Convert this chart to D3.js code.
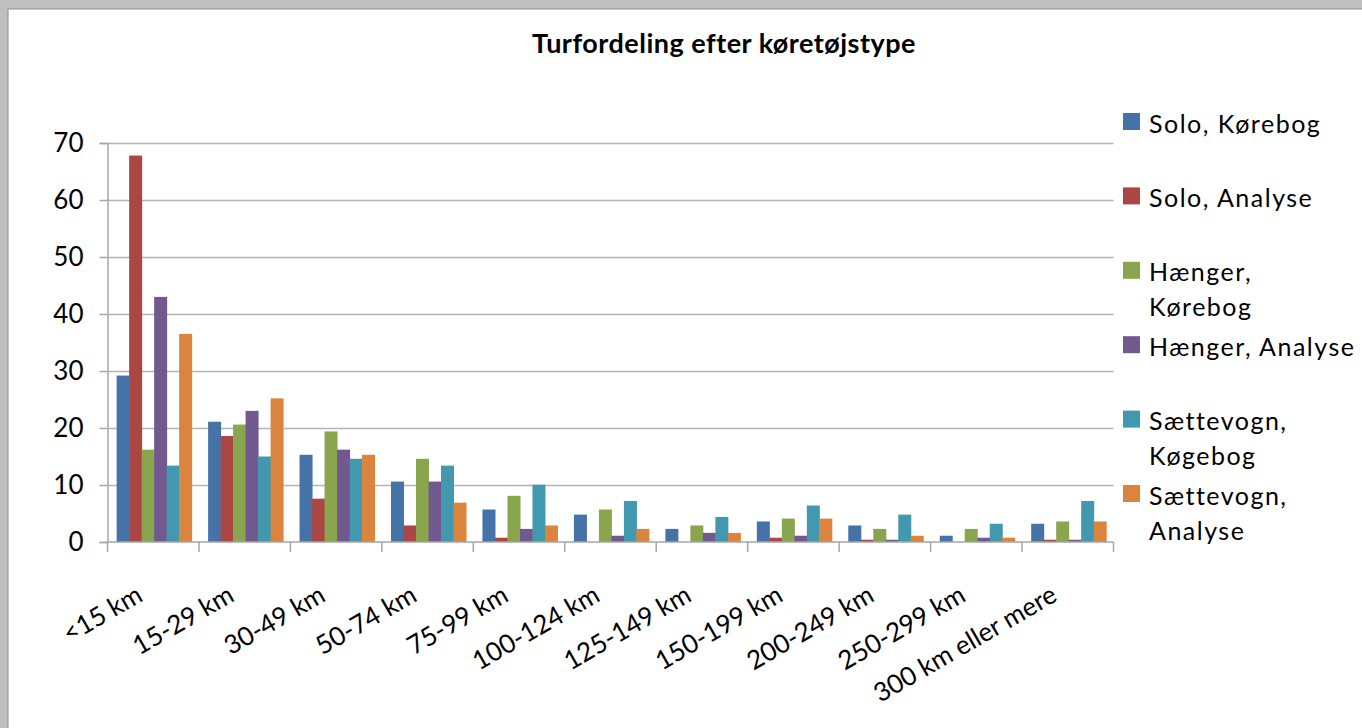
<!DOCTYPE html>
<html>
<head>
<meta charset="utf-8">
<script src="https://cdn.jsdelivr.net/npm/d3@7"></script>
<style>
  body { margin: 0; background: #fff; }
  svg text { font-family: Lato, "Open Sans", sans-serif; fill: #000; }
</style>
</head>
<body>
<div id="chart"></div>
<script>
const categories = ["<15 km", "15-29 km", "30-49 km", "50-74 km", "75-99 km", "100-124 km",
  "125-149 km", "150-199 km", "200-249 km", "250-299 km", "300 km eller mere"];
const seriesNames = ["Solo, Kørebog", "Solo, Analyse", "Hænger, Kørebog", "Hænger, Analyse",
  "Sættevogn, Køgebog", "Sættevogn, Analyse"];
const soloKorebog = [29.2, 21.1, 15.3, 10.6, 5.7, 4.8, 2.3, 3.6, 2.9, 1.1, 3.2];
const soloAnalyse = [67.8, 18.6, 7.6, 2.9, 0.75, 0, 0, 0.75, 0.4, 0, 0.4];
const haengerKorebog = [16.2, 20.6, 19.4, 14.6, 8.1, 5.7, 2.9, 4.1, 2.3, 2.3, 3.6];
const haengerAnalyse = [43.0, 23.0, 16.2, 10.6, 2.3, 1.1, 1.6, 1.1, 0.4, 0.75, 0.4];
const saettevognKogebog = [13.4, 15.0, 14.6, 13.4, 10.05, 7.2, 4.4, 6.4, 4.8, 3.2, 7.2];
const saettevognAnalyse = [36.5, 25.2, 15.3, 6.9, 2.9, 2.3, 1.6, 4.1, 1.1, 0.75, 3.6];
const yTicks = [0, 10, 20, 30, 40, 50, 60, 70];
const colors = ["#4572a7", "#aa4643", "#89a54e", "#71588f", "#4198af", "#db843d"];
// legend labels wrap like the original
const legendLines = [["Solo, Kørebog"], ["Solo, Analyse"], ["Hænger,", "Kørebog"],
  ["Hænger, Analyse"], ["Sættevogn,", "Køgebog"], ["Sættevogn,", "Analyse"]];

const allSeries = [soloKorebog, soloAnalyse, haengerKorebog, haengerAnalyse, saettevognKogebog, saettevognAnalyse];

let width = 1362, height = 728;
let margin = { top: 143, bottom: 186, left: 107.5, right: 248.5 };

let svg = d3.select('#chart')
  .append('svg')
  .attr('width', width)
  .attr('height', height);

// window frame
svg.append('rect').attr('x', 0).attr('y', 0).attr('width', width).attr('height', 9).attr('fill', '#bfbfbf');
svg.append('rect').attr('x', 0).attr('y', 0).attr('width', 8).attr('height', height).attr('fill', '#bfbfbf');
svg.append('line').attr('x1', 8).attr('x2', 8).attr('y1', 9).attr('y2', height).attr('stroke', '#8c8c8c');
svg.append('line').attr('x1', 8).attr('x2', width).attr('y1', 9).attr('y2', 9).attr('stroke', '#8c8c8c');

let x0 = d3.scaleBand()
  .domain(categories)
  .range([margin.left, width - margin.right])
  .paddingInner(0)
  .paddingOuter(0);

let x1 = d3.scaleBand()
  .domain(d3.range(seriesNames.length))
  .range([x0.bandwidth() * 0.1, x0.bandwidth() * 0.92]);

let yscale = d3.scaleLinear()
  .domain([0, 70])
  .range([height - margin.bottom, margin.top]);

// gridlines
svg.append('g')
  .attr('transform', `translate(${margin.left},0)`)
  .call(d3.axisLeft(yscale).tickValues(yTicks.slice(1)).tickSize(-(width - margin.right - margin.left)).tickFormat(''))
  .call(g => g.select('.domain').remove())
  .selectAll('line').attr('stroke', '#b3b3b3').attr('stroke-width', 1.5);

// y axis
svg.append('g')
  .attr('transform', `translate(${margin.left},0)`)
  .call(d3.axisLeft(yscale).tickValues(yTicks).tickSize(8).tickPadding(16))
  .call(g => g.select('.domain').attr('stroke', '#a6a6a6').attr('stroke-width', 1.5))
  .call(g => g.selectAll('line').attr('stroke', '#a6a6a6').attr('stroke-width', 1.5))
  .selectAll('text')
  .style('font-size', '26px');

// bars
svg.append('g')
  .selectAll('g')
  .data(categories)
  .join('g')
  .attr('transform', d => `translate(${x0(d)},0)`)
  .selectAll('rect')
  .data((d, i) => allSeries.map((s, k) => ({ k: k, v: s[i] })))
  .join('rect')
  .attr('x', d => x1(d.k))
  .attr('width', x1.bandwidth() + 0.5)
  .attr('y', d => yscale(d.v))
  .attr('height', d => yscale(0) - yscale(d.v))
  .attr('fill', d => colors[d.k]);

// x axis line and ticks between categories
let xAxis = svg.append('g');
xAxis.append('line')
  .attr('x1', margin.left).attr('x2', width - margin.right)
  .attr('y1', yscale(0)).attr('y2', yscale(0))
  .attr('stroke', '#a6a6a6').attr('stroke-width', 1.5);
xAxis.selectAll('.tick')
  .data(categories.map(c => x0(c)).concat([width - margin.right]))
  .join('line')
  .attr('x1', d => d).attr('x2', d => d)
  .attr('y1', yscale(0)).attr('y2', yscale(0) + 10)
  .attr('stroke', '#a6a6a6').attr('stroke-width', 1.5);

xAxis.selectAll('text')
  .data(categories)
  .join('text')
  .attr('text-anchor', 'end')
  .attr('transform', d => `translate(${x0(d) + x0.bandwidth() / 2 - 9},${yscale(0) + 58}) rotate(-30)`)
  .style('font-size', '26px')
  .text(d => d);

// title
svg.append('text')
  .attr('x', 724)
  .attr('y', 53)
  .attr('text-anchor', 'middle')
  .style('font-size', '27px')
  .style('font-weight', 'bold')
  .style('letter-spacing', '0.5px')
  .text('Turfordeling efter køretøjstype');

// legend
let legend = svg.append('g')
  .selectAll('g')
  .data(seriesNames)
  .join('g')
  .attr('transform', (d, i) => `translate(1123,${113 + i * 74.4})`);

legend.append('rect')
  .attr('width', 17).attr('height', 17)
  .attr('fill', (d, i) => colors[i]);

legend.append('text')
  .attr('x', 26)
  .attr('y', 19.5)
  .style('font-size', '25px')
  .style('letter-spacing', '1.5px')
  .selectAll('tspan')
  .data((d, i) => legendLines[i])
  .join('tspan')
  .attr('x', 26)
  .attr('dy', (d, j) => j === 0 ? 0 : 35)
  .text(d => d);
</script>
</body>
</html>
